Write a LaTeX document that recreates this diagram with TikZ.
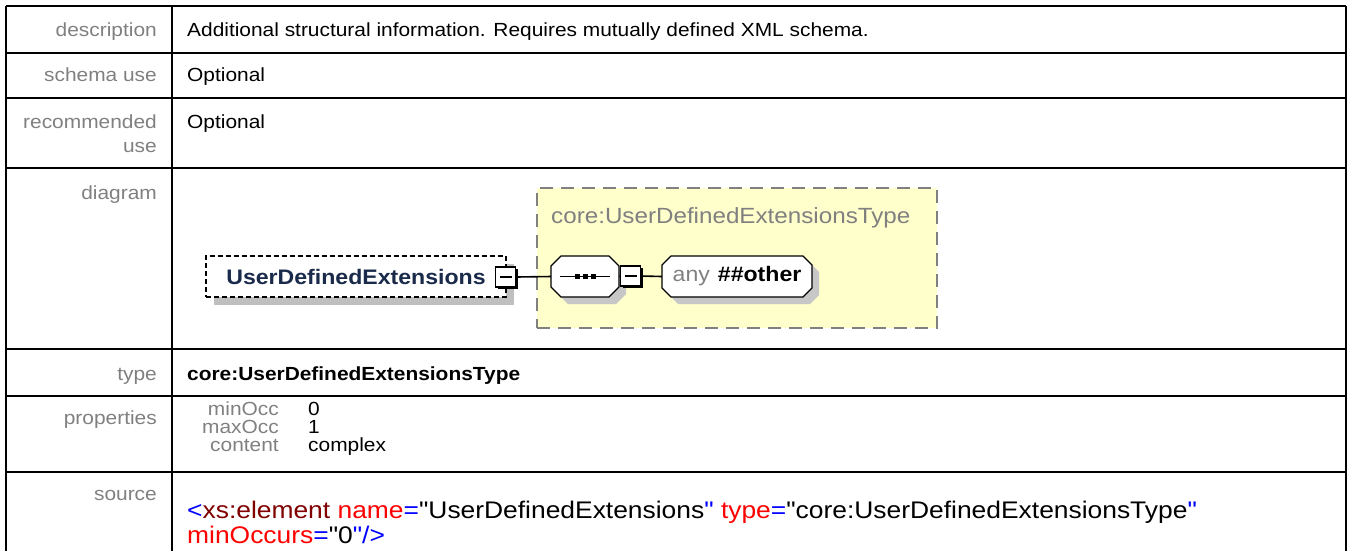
\documentclass[tikz,border=0pt]{standalone}
\usepackage{fontspec}
\setmainfont{Liberation Sans}[FakeStretch=1.1]
\newfontfamily\srcfont{Liberation Sans}[FakeStretch=1.1]
\usetikzlibrary{shadows}

\definecolor{labelgrey}{HTML}{808080}
\definecolor{typeyellow}{HTML}{FFFFCC}
\definecolor{elemblue}{HTML}{1A2A4A}
\definecolor{tagred}{HTML}{800000}

\newcommand\octpath[4]{(#1-#3+#4,#2-20.5) -- (#1+#3-#4,#2-20.5) -- (#1+#3,#2-20.5+#4)
  -- (#1+#3,#2+20.5-#4) -- (#1+#3-#4,#2+20.5) -- (#1-#3+#4,#2+20.5)
  -- (#1-#3,#2+20.5-#4) -- (#1-#3,#2-20.5+#4) -- cycle}

\tikzset{
  rowlabel/.style={anchor=base east,inner sep=0,text=labelgrey},
  rowvalue/.style={anchor=base west,inner sep=0},
  wire/.style={line width=1.6pt},
  minusbox/.style={draw,fill=white,line width=1.8pt,minimum size=20pt,inner sep=0,
    drop shadow={shadow xshift=2pt,shadow yshift=-2pt,fill=black,opacity=1},
    path picture={\draw[line width=1.3pt]
      ([xshift=-6pt]path picture bounding box.center) --
      ([xshift=6pt]path picture bounding box.center);}},
  octshadow/.style={fill=black!22,shift={(7,7)}},
  octline/.style={draw,fill=white,line width=1.3pt},
}

\begin{document}
\begin{tikzpicture}[x=1pt,y=-1pt,every node/.style={font=\fontsize{19}{22}\selectfont}]

\useasboundingbox (0,0) rectangle (1348,550);

\foreach \y in {6,53,98,168,349,396,472}
  \draw[line width=1.3pt] (6,\y) -- (1346,\y);
\foreach \x in {6,172,1346}
  \draw[line width=1.3pt] (\x,6) -- (\x,551);

\begin{scope}[every node/.style={rowlabel,font=\fontsize{19}{22}\selectfont}]
\node(ldesc) at(157,36) {description};
\node(luse) at(157,81) {schema use};
\node(lrec) at(157,128) {recommended};
\node(lrec2) at(157,152) {use};
\node(ldiag) at(157,199) {diagram};
\node(ltype) at(157,380) {type};
\node(lprop) at(157,424) {properties};
\node(lsrc) at(157,500) {source};
\node(lmin) at(279,415) {minOcc};
\node(lmax) at(279,433) {maxOcc};
\node(lcont) at(279,451) {content};
\end{scope}

\begin{scope}[every node/.style={rowvalue,font=\fontsize{19}{22}\selectfont}]
\node(vdesc) at(187,36) {Additional structural information. Requires mutually defined XML schema.};
\node(vuse) at(187,81) {Optional};
\node(vrec) at(187,128) {Optional};
\node(vtype) at(187,380) {\bfseries core:UserDefinedExtensionsType};
\node(vmin) at(308,415) {0};
\node(vmax) at(308,433) {1};
\node(vcont) at(308,451) {complex};
\end{scope}

\begin{scope}[every node/.style={rowvalue,font=\srcfont\fontsize{24}{26}\selectfont}]
\node(src1) at(187,518) {{\color{blue}<}{\color{tagred}xs:element} {\color{red}name}{\color{blue}=}"UserDefinedExtensions{\color{blue}"} {\color{red}type}{\color{blue}=}"core:UserDefinedExtensionsType{\color{blue}"}};
\node(src2) at(187,543) {{\color{red}minOccurs}{\color{blue}=}"0{\color{blue}"/>}};
\end{scope}

\node[draw=labelgrey,fill=typeyellow,line width=1.5pt,dash pattern=on 13pt off 8pt,
  minimum width=400pt,minimum height=140pt,inner sep=0] (ctype) at(737,258) {};
\node[anchor=base west,inner sep=0,text=labelgrey,font=\fontsize{22}{24}\selectfont]
  (ctypename) at(551,223) {core:UserDefinedExtensionsType};

\node[draw,dash pattern=on 5pt off 3pt,line width=1.5pt,fill=white,
  minimum width=300pt,minimum height=41pt,inner sep=0,text=elemblue,
  font=\fontsize{21}{24}\selectfont\bfseries,
  drop shadow={shadow xshift=8pt,shadow yshift=-8pt,fill=black!25,opacity=1}]
  (elem) at(356,276.5) {UserDefinedExtensions};
\node[minusbox] (m1) at(505.5,277) {};

\fill[octshadow] \octpath{585}{276.5}{34}{10};
\path[octline] \octpath{585}{276.5}{34}{10};
\fill[octshadow] \octpath{737}{276.5}{75}{9};
\path[octline] \octpath{737}{276.5}{75}{9};

\node[minimum width=68pt,minimum height=41pt,inner sep=0] (seq) at(585,276.5) {};
\node[minusbox] (m2) at(630.5,276) {};
\node[minimum width=150pt,minimum height=41pt,inner sep=0,
  font=\fontsize{21}{24}\selectfont] (any) at(737,276.5)
  {{\color{labelgrey}any}\hspace{8pt}\textbf{\#\#other}};

\draw[wire] ([xshift=9pt]seq.west) -- ([xshift=-9pt]seq.east);
\foreach \dx in {-8,0,8}
  \fill ([xshift=\dx pt]seq.center) +(-2.5,-2.5) rectangle +(2.5,2.5);

\draw[wire]
(m1.east) -- (seq.west)
(seq.east) -- (m2.west)
(m2.east) -- (any.west)
;

\end{tikzpicture}
\end{document}
